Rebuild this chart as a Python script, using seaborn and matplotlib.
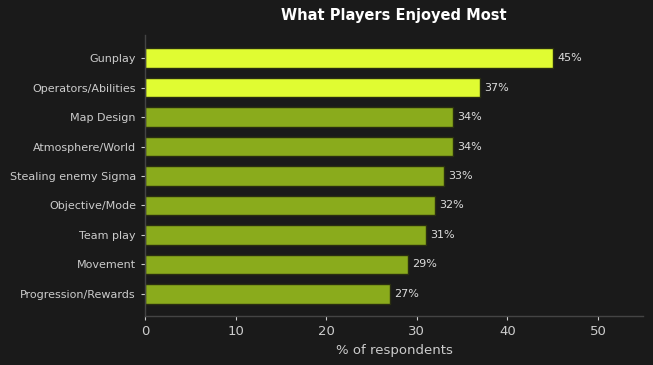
import pandas as pd
import matplotlib
matplotlib.use("Agg")
import matplotlib.pyplot as plt
import seaborn as sns

# data
aspects = ["Gunplay", "Operators/Abilities", "Map Design", "Atmosphere/World",
           "Stealing enemy Sigma", "Objective/Mode", "Team play", "Movement",
           "Progression/Rewards"]
percent = [45, 37, 34, 34, 33, 32, 31, 29, 27]
highlight = [True, True, False, False, False, False, False, False, False]

df = pd.DataFrame({"aspect": aspects, "pct": percent,
                   "top": ["hi" if h else "lo" for h in highlight]})

bg = "#1a1a1a"
sns.set_theme(style="dark")
plt.rcParams["font.family"] = ["DejaVu Sans"]

fig = plt.figure(figsize=(6.53, 3.65), dpi=100, facecolor=bg)
ax = fig.add_axes([0.222, 0.134, 0.763, 0.77])
ax.set_facecolor(bg)

sns.barplot(data=df, x="pct", y="aspect", hue="top",
            palette={"hi": "#e0fc32", "lo": "#8aab1c"}, saturation=1,
            dodge=False, width=0.65, edgecolor="#2a2f10", linewidth=1,
            legend=False, ax=ax)

for i, v in enumerate(percent):
    ax.text(v + 0.5, i, f"{v}%", va="center", ha="left",
            color="#dddddd", fontsize=8)

ax.set_xlim(0, 55)
ax.set_ylim(8.75, -0.78)
ax.set_xticks([0, 10, 20, 30, 40, 50])
ax.set_title("What Players Enjoyed Most", color="white",
             fontsize=10.5, fontweight="bold", pad=11)
ax.set_xlabel("% of respondents", color="#cccccc", fontsize=9.5)
ax.set_ylabel("")
ax.tick_params(axis="both", colors="#cccccc", length=3,
               width=0.8, left=True, bottom=True)
ax.tick_params(axis="y", labelsize=8)
ax.tick_params(axis="x", labelsize=9.5)
for t in ax.get_xticklabels() + ax.get_yticklabels():
    t.set_color("#cccccc")
ax.grid(False)
for side in ["top", "right"]:
    ax.spines[side].set_visible(False)
for side in ["left", "bottom"]:
    ax.spines[side].set_visible(True)
    ax.spines[side].set_color("#444444")
    ax.spines[side].set_linewidth(1)

fig.savefig("out.png", dpi=100, facecolor=bg)
